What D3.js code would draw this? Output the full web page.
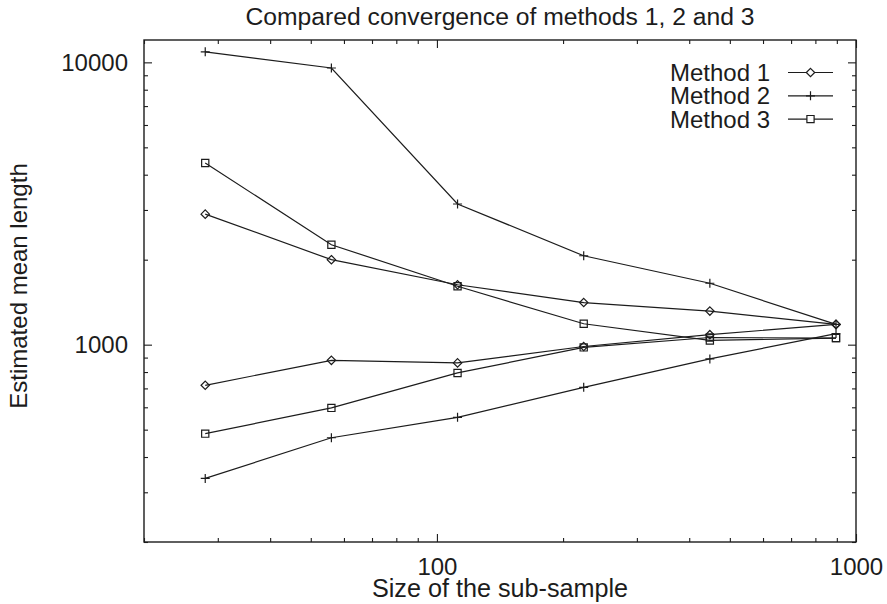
<!DOCTYPE html>
<html>
<head>
<meta charset="utf-8">
<script src="https://cdn.jsdelivr.net/npm/d3@7"></script>
<style>
  html, body { margin: 0; padding: 0; background: #fff; }
  svg { display: block; }
  text { font-family: "Liberation Sans", Arial, Helvetica, sans-serif; fill: #1c1c1c; }
</style>
</head>
<body>
<svg id="chart" width="887" height="604"></svg>
<script>
// ---- data ----
const sampleSizes = [28, 56, 112, 224, 448, 896];
const method1Upper = [2900, 2000, 1630, 1410, 1315, 1180];
const method1Lower = [718, 880, 862, 985, 1085, 1180];
const method2Upper = [10900, 9550, 3150, 2065, 1650, 1180];
const method2Lower = [336, 468, 553, 706, 890, 1095];
const method3Upper = [4400, 2260, 1610, 1186, 1035, 1055];
const method3Lower = [484, 597, 794, 978, 1060, 1055];
const legendLabels = ["Method 1", "Method 2", "Method 3"];
const xMajorTicks = [100, 1000];
const xMinorTicks = [20, 30, 40, 50, 60, 70, 80, 90, 200, 300, 400, 500, 600, 700, 800, 900];
const yMajorTicks = [1000, 10000];
const yMinorTicks = [200, 300, 400, 500, 600, 700, 800, 900, 2000, 3000, 4000, 5000, 6000, 7000, 8000, 9000];
const titleText = "Compared convergence of methods 1, 2 and 3";
const xLabel = "Size of the sub-sample";
const yLabel = "Estimated mean length";

const series = [
  { method: 0, values: method1Upper },
  { method: 0, values: method1Lower },
  { method: 1, values: method2Upper },
  { method: 1, values: method2Lower },
  { method: 2, values: method3Upper },
  { method: 2, values: method3Lower }
];

// ---- layout ----
const L = 144, R = 856, T = 40, B = 542;
const ink = "#1c1c1c";
const svg = d3.select("#chart");

const x = d3.scaleLog().domain([20, 1000]).range([L, R]);
const y = d3.scaleLog().domain([200, 12000]).range([B, T]);

const fontSize = 24;

// axes helper
function drawAxis(axisGen, transform) {
  const g = svg.append("g").attr("transform", transform).call(axisGen);
  g.select(".domain").remove();
  g.selectAll(".tick line").attr("stroke", ink).attr("stroke-width", 1.1);
  g.selectAll(".tick text").attr("font-size", fontSize).attr("fill", ink)
    .style("font-family", '"Liberation Sans", Arial, sans-serif');
  return g;
}

// bottom
drawAxis(d3.axisBottom(x).tickValues(xMajorTicks).tickSize(-8).tickPadding(16).tickFormat(d3.format("d")), `translate(0,${B})`);
drawAxis(d3.axisBottom(x).tickValues(xMinorTicks).tickSize(-4).tickFormat(""), `translate(0,${B})`);
// top
drawAxis(d3.axisTop(x).tickValues(xMajorTicks).tickSize(-8).tickFormat(""), `translate(0,${T})`);
drawAxis(d3.axisTop(x).tickValues(xMinorTicks).tickSize(-4).tickFormat(""), `translate(0,${T})`);
// left
drawAxis(d3.axisLeft(y).tickValues(yMajorTicks).tickSize(-8).tickPadding(16).tickFormat(d3.format("d")), `translate(${L},0)`);
drawAxis(d3.axisLeft(y).tickValues(yMinorTicks).tickSize(-4).tickFormat(""), `translate(${L},0)`);
// right
drawAxis(d3.axisRight(y).tickValues(yMajorTicks).tickSize(-8).tickFormat(""), `translate(${R},0)`);
drawAxis(d3.axisRight(y).tickValues(yMinorTicks).tickSize(-4).tickFormat(""), `translate(${R},0)`);

// frame
svg.append("rect").attr("x", L).attr("y", T).attr("width", R - L).attr("height", B - T)
  .attr("fill", "none").attr("stroke", ink).attr("stroke-width", 1.4);

// markers
function markerPath(method) {
  if (method === 0) return "M0,-4.2L4.2,0L0,4.2L-4.2,0Z";
  if (method === 1) return "M-4.5,0H4.5M0,-4.5V4.5";
  return "M-3.6,-3.6H3.6V3.6H-3.6Z";
}

const line = d3.line().x((d, i) => x(sampleSizes[i])).y(d => y(d));

const plot = svg.append("g");
series.forEach(s => {
  plot.append("path").attr("d", line(s.values)).attr("fill", "none")
    .attr("stroke", ink).attr("stroke-width", 1.2);
  plot.selectAll(null).data(s.values).enter().append("path")
    .attr("transform", (d, i) => `translate(${x(sampleSizes[i])},${y(d)})`)
    .attr("d", markerPath(s.method))
    .attr("fill", "none").attr("stroke", ink).attr("stroke-width", 1.2);
});

// legend
const legY0 = 72.5, legDy = 23.3;
legendLabels.forEach((lab, i) => {
  const ly = legY0 + i * legDy;
  svg.append("text").attr("x", 770).attr("y", ly).attr("dy", "0.35em")
    .attr("text-anchor", "end").attr("font-size", fontSize).text(lab);
  svg.append("line").attr("x1", 788).attr("x2", 833).attr("y1", ly).attr("y2", ly)
    .attr("stroke", ink).attr("stroke-width", 1.2);
  svg.append("path").attr("transform", `translate(810.5,${ly})`).attr("d", markerPath(i))
    .attr("fill", "#fff").attr("stroke", ink).attr("stroke-width", 1.2);
});

// title and labels
svg.append("text").attr("x", (L + R) / 2).attr("y", 25).attr("text-anchor", "middle")
  .attr("font-size", 24.7).text(titleText);
svg.append("text").attr("x", (L + R) / 2).attr("y", 597).attr("text-anchor", "middle")
  .attr("font-size", 25.2).text(xLabel);
svg.append("text").attr("transform", `translate(27,${(T + B) / 2 - 5}) rotate(-90)`)
  .attr("text-anchor", "middle").attr("font-size", fontSize).text(yLabel);
</script>
</body>
</html>
